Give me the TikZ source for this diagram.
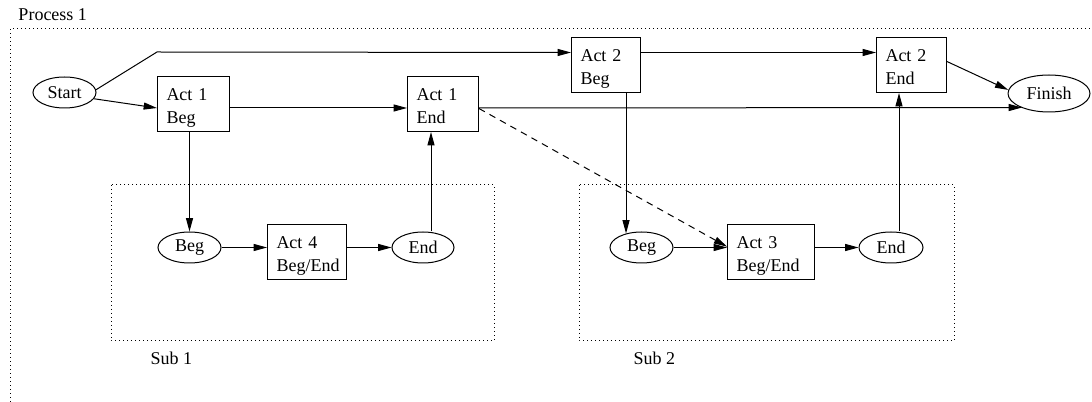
\documentclass[tikz,border=0pt]{standalone}
\usepackage{fontspec}
\setmainfont{Liberation Serif}
\usetikzlibrary{shapes.geometric,arrows.meta}
\begin{document}
\begin{tikzpicture}[x=0.75pt,y=-0.75pt,
  every node/.style={font=\fontsize{13.5}{17.25}\selectfont},
  line width=0.75pt,
  arr/.style={-{Triangle[length=10pt,width=5.25pt]}},
  dotbox/.style={dash pattern=on 0.75pt off 2.25pt},
  box/.style={draw, anchor=north west, align=left, inner xsep=6.75pt, inner ysep=0pt,
    minimum height=41.25pt, text height=12pt, text depth=17.25pt},
  ell/.style={draw, ellipse, inner sep=0pt, minimum height=23.25pt},
  lbl/.style={anchor=base west, inner sep=0pt}]
\useasboundingbox (0,0) rectangle (1092,402);
% clusters
\draw[dotbox] (10,402) -- (10,29) -- (1092,29);
\node[lbl] (p1) at (18,21) {Process 1};
\draw[dotbox] (111,185) rectangle (494,341);
\node[lbl] (s1) at (150,364) {Sub 1};
\draw[dotbox] (579,185) rectangle (954,341);
\node[lbl] (s2) at (633,364) {Sub 2};
% nodes
\node[ell, minimum width=47.25pt] (S) at (64.5,92.5) {Start};
\node[ell, minimum width=61.5pt, minimum height=27.75pt] (F) at (1049,93.5) {Finish};
\node[box, text width=40.5pt] (A1B) at (157,76) {Act 1\\Beg};
\node[box, text width=39.75pt] (A1E) at (407,76) {Act 1\\End};
\node[box, text width=38.25pt] (A2B) at (571,37.5) {Act 2\\Beg};
\node[box, text width=39pt] (A2E) at (876,37) {Act 2\\End};
\node[box, text width=45.75pt] (A4) at (267,224) {Act 4\\Beg/End};
\node[box, text width=51.75pt] (A3) at (727,224) {Act 3\\Beg/End};
\node[ell, minimum width=47.25pt] (B1) at (189.5,247.5) {Beg};
\node[ell, minimum width=46.5pt] (E1) at (423,247.5) {End};
\node[ell, minimum width=47.25pt] (B2) at (641.5,247.5) {Beg};
\node[ell, minimum width=48pt] (E2) at (891,247.5) {End};
\coordinate (c1) at (157,52);
\coordinate (fin) at (1022,107.5);
% edges
\draw[arr] (S.-12) -- ([yshift=-3pt]A1B.west);
\draw[arr] (S.5) -- (c1) -- ([yshift=9.75pt]A2B.west);
\draw[arr] ([yshift=-3pt]A1B.east) -- ([yshift=-3pt]A1E.west);
\draw[arr] ([yshift=9.75pt]A2B.east) -- ([yshift=9.75pt]A2B.east -| A2E.west);
\draw[arr] ([yshift=2.6pt]A2E.east) -- (F.175);
\draw[arr] ([yshift=-3pt]A1E.east) -- (fin);
\draw[arr] (B1.north |- A1B.south) -- (B1.north);
\draw[arr] ([xshift=6pt]E1.north) -- ([xshift=6pt]E1.north |- A1E.south);
\draw[arr] ([xshift=-11.6pt]B2.north |- A2B.south) -- ([xshift=-11.6pt,yshift=-1.5pt]B2.north);
\draw[arr] ([xshift=6pt]E2.north) -- ([xshift=6pt]E2.north |- A2E.south);
\draw[arr] (B1.east) -- (B1.east -| A4.west);
\draw[arr] (A4.east |- E1.west) -- (E1.west);
\draw[arr] (B2.east) -- (B2.east -| A3.west);
\draw[arr] (A3.east |- E2.west) -- (E2.west);
\draw[arr, dash pattern=on 5pt off 4pt] ([yshift=-3.4pt]A1E.east) -- ([yshift=4pt]A3.west);
\end{tikzpicture}
\end{document}
